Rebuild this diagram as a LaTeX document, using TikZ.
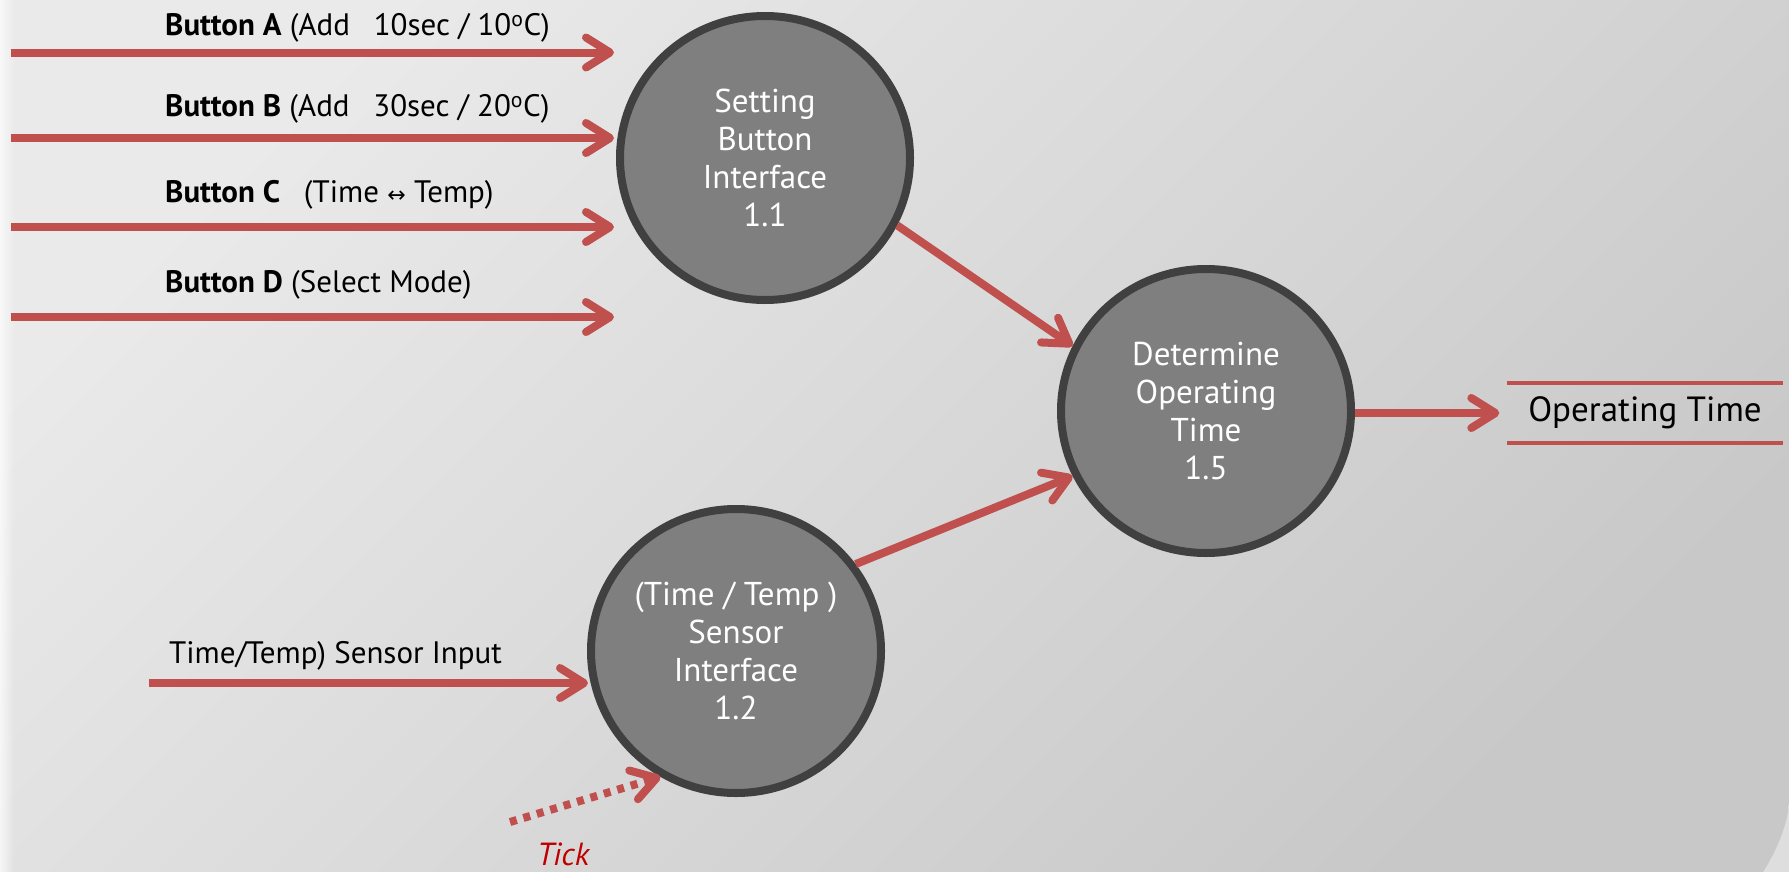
\documentclass[tikz,border=0pt]{standalone}
\usepackage{fontspec}
\setmainfont{PT Sans}
\newfontfamily\dejavu{DejaVu Sans}
\usetikzlibrary{arrows.meta,shapes.geometric,fadings}
\definecolor{flow}{HTML}{C0504D}
\definecolor{ring}{HTML}{404040}
\definecolor{bubblefill}{HTML}{7F7F7F}
\definecolor{tickred}{HTML}{C00000}
\definecolor{bgA}{HTML}{EAEAEA}
\definecolor{bgB}{HTML}{C8C8C8}
\definecolor{bgOut}{HTML}{DEDEDE}
\begin{document}
\begin{tikzpicture}[x=1bp,y=-1bp,
  flowline/.style={draw=flow, line width=8bp,
    -{Straight Barb[length=24bp,width=30bp,round]},
    preaction={draw=black, draw opacity=.14, transform canvas={shift={(2bp,-3bp)}}}},
  tickline/.style={draw=flow, line width=8bp, dash pattern=on 7bp off 7bp,
    -{Straight Barb[length=24bp,width=30bp,round]}},
  bubble/.style={ellipse, draw=ring, fill=bubblefill, line width=8bp,
    minimum width=290bp, minimum height=284bp, inner sep=0pt,
    text=white, align=center, font=\fontsize{33bp}{38bp}\selectfont},
  lbl/.style={anchor=base west, inner sep=0pt, text=black,
    font=\fontsize{31bp}{36bp}\selectfont},
  storebox/.style={minimum width=275bp, minimum height=60bp, inner sep=0pt,
    font=\fontsize{35bp}{40bp}\selectfont},
  storeline/.style={draw=flow, line width=4bp}
]
\useasboundingbox (0,0) rectangle (1789,872);
% background
\fill[bgOut] (0,0) rectangle (1789,872);
\shade[top color=bgA, bottom color=bgB, shading angle=45]
  (0,0) -- (1789,0) -- (1789,800) .. controls (1789,822) and (1776,852) .. (1763,872) -- (0,872) -- cycle;
\fill[white, opacity=.7, path fading=east] (0,0) rectangle (14,872);

% processes
\node[bubble] (c11) at (765,158) {Setting\\Button\\Interface\\1.1};
\node[bubble] (c12) at (736,651) {(Time / Temp )\\Sensor\\Interface\\1.2};
\node[bubble] (c15) at (1206,411) {Determine\\Operating\\Time\\1.5};

% input labels
\node[lbl] (la) at (165,35) {\textbf{Button A} (Add\hspace{0.5em} 10sec / 10\textsuperscript{o}C)};
\node[lbl] (lb) at (165,116) {\textbf{Button B} (Add\hspace{0.5em} 30sec / 20\textsuperscript{o}C)};
\node[lbl] (lc) at (165,202) {\textbf{Button C}\hspace{0.5em} (Time {\dejavu\fontsize{22bp}{22bp}\selectfont ↔} Temp)};
\node[lbl] (ld) at (165,292) {\textbf{Button D} (Select Mode)};
\node[lbl] (ls) at (169,663) {Time/Temp) Sensor Input};
\node[anchor=base west, inner sep=0pt, text=tickred, font=\fontsize{32bp}{36bp}\selectfont\itshape] (tick) at (537,865) {Tick};

% input arrows
\coordinate (aS) at (11,52.5);  \coordinate (aE) at (614,52.5);
\coordinate (bS) at (11,138);   \coordinate (bE) at (614,138);
\coordinate (cS) at (11,227);   \coordinate (cE) at (614,227);
\coordinate (dS) at (11,317);   \coordinate (dE) at (614,317);
\coordinate (sS) at (149,683);  \coordinate (sE) at (588,683);
\coordinate (kS) at (510,822);
\draw[flowline] (aS) -- (aE);
\draw[flowline] (bS) -- (bE);
\draw[flowline] (cS) -- (cE);
\draw[flowline] (dS) -- (dE);
\draw[flowline] (sS) -- (sE);
\draw[tickline] (kS) -- (c12.-121);

% internal flows
\draw[flowline] (c11.-27) -- (c15.154);
\draw[flowline] (c12.36) -- (c15.206);

% data store
\node[storebox] (ot) at (1645,413) {Operating Time};
\draw[storeline] (ot.north west) -- (ot.north east);
\draw[storeline] (ot.south west) -- (ot.south east);
\coordinate (otin) at ([xshift=-8bp]ot.west);
\draw[flowline] (c15.east |- otin) -- (otin);
\end{tikzpicture}
\end{document}
